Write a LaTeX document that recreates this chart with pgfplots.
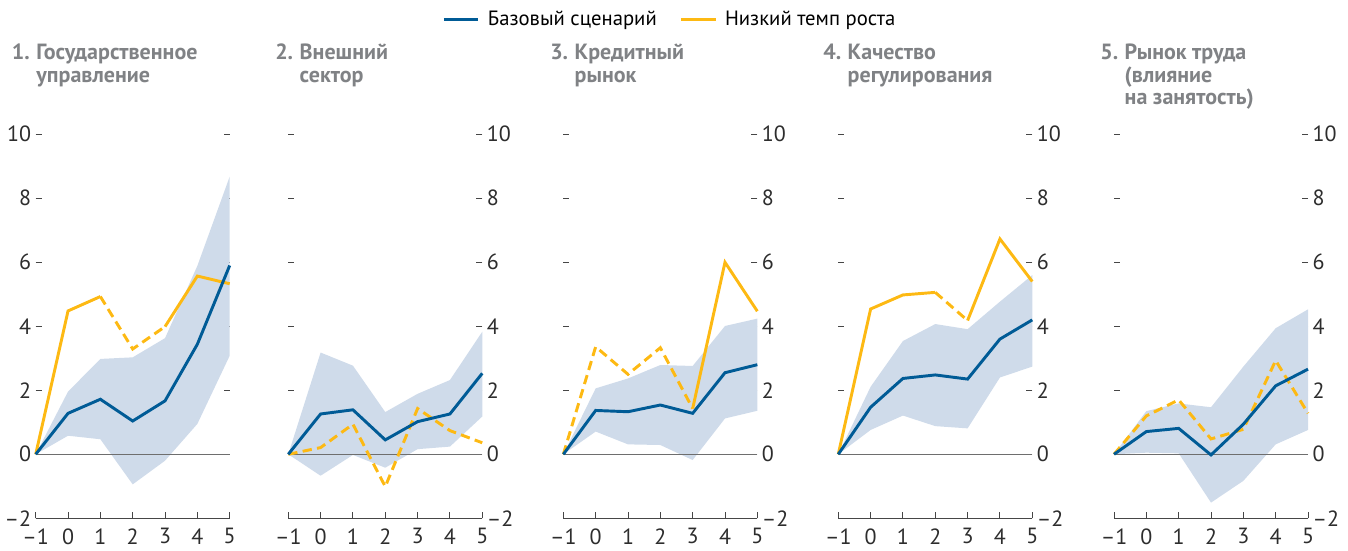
\documentclass[border=0pt]{standalone}
\usepackage{fontspec}
\setmainfont{PT Sans}
\usepackage{pgfplots}
\pgfplotsset{compat=1.18}
\usepackage{pgfplotstable}

\definecolor{bluec}{RGB}{0,91,150}
\definecolor{yelc}{RGB}{253,185,19}
\definecolor{bandc}{RGB}{207,219,234}
\definecolor{zeroc}{RGB}{110,110,110}
\definecolor{titc}{RGB}{128,130,133}
\definecolor{tickc}{RGB}{70,70,70}
\definecolor{labc}{RGB}{45,45,45}

% series: x, baseline, low-growth
\pgfplotstableread{
x  base  yel
-1 0     0
0  1.28  4.48
1  1.72  4.93
2  1.04  3.29
3  1.67  3.99
4  3.44  5.57
5  5.90  5.33
}\pone
\pgfplotstableread{
x  base  yel
-1 0     0
0  1.26  0.21
1  1.39  0.94
2  0.45  -1.01
3  1.02  1.43
4  1.26  0.74
5  2.53  0.36
}\ptwo
\pgfplotstableread{
x  base  yel
-1 0     0
0  1.37  3.36
1  1.33  2.50
2  1.54  3.33
3  1.28  1.43
4  2.55  6.00
5  2.80  4.47
}\pthree
\pgfplotstableread{
x  base  yel
-1 0     0
0  1.47  4.54
1  2.37  4.98
2  2.48  5.06
3  2.35  4.18
4  3.60  6.73
5  4.20  5.40
}\pfour
\pgfplotstableread{
x  base  yel
-1 0     0
0  0.71  1.20
1  0.81  1.70
2  -0.02 0.48
3  0.94  0.78
4  2.14  2.93
5  2.66  1.28
}\pfive

% confidence bands: upper bound left to right, then lower bound right to left
\pgfplotstableread{
x y
-1 0
0 1.96
1 2.98
2 3.03
3 3.63
4 5.89
5 8.68
5 3.08
4 0.95
3 -0.20
2 -0.94
1 0.47
0 0.58
}\bone
\pgfplotstableread{
x y
-1 0
0 3.18
1 2.77
2 1.32
3 1.89
4 2.32
5 3.83
5 1.18
4 0.24
3 0.16
2 -0.42
1 -0.02
0 -0.67
}\btwo
\pgfplotstableread{
x y
-1 0
0 2.06
1 2.37
2 2.79
3 2.76
4 4.01
5 4.24
5 1.36
4 1.12
3 -0.18
2 0.29
1 0.31
0 0.71
}\bthree
\pgfplotstableread{
x y
-1 0
0 2.11
1 3.54
2 4.07
3 3.91
4 4.77
5 5.60
5 2.74
4 2.40
3 0.81
2 0.88
1 1.21
0 0.76
}\bfour
\pgfplotstableread{
x y
-1 0
0 1.35
1 1.59
2 1.47
3 2.74
4 3.94
5 4.53
5 0.76
4 0.31
3 -0.83
2 -1.51
1 0.03
0 0.05
}\bfive

\newcommand\titlefont{\fontsize{16.5}{19}\selectfont\bfseries}
\pgfplotsset{
  mypanel/.style={
    scale only axis, width=145.5pt, height=288pt,
    anchor=south west, clip=false,
    xmin=-1, xmax=5, ymin=-2, ymax=10,
    xtick={-1,0,1,2,3,4,5}, xticklabels={–1,0,1,2,3,4,5},
    ytick={-2,0,2,4,6,8,10}, yticklabels={–2,0,2,4,6,8,10},
    axis line style={draw=none},
    tick align=inside, xtick pos=bottom, ytick pos=both,
    major tick length=4.5pt,
    tick style={draw=tickc, line width=0.75pt},
    ticklabel style={font=\fontsize{16.5}{18}\selectfont, text=labc},
    xticklabel style={inner sep=0pt, yshift=-7.5pt},
    yticklabel style={inner xsep=3.2pt},
  },
  mybandst/.style={fill=bandc, draw=none, forget plot},
  mybl/.style={bluec, line width=2.2pt, forget plot},
  myyl/.style={yelc, line width=2.2pt, forget plot},
  myyd/.style={yelc, line width=2.2pt, dash pattern=on 7pt off 4pt, forget plot},
}

\begin{document}
\begin{tikzpicture}
\useasboundingbox (0,0) rectangle (1011pt,412.5pt);

% Panel 1
\begin{axis}[mypanel, at={(26.78pt,23.78pt)}, yticklabel pos=left,
  legend columns=2,
  legend image code/.code={\draw[#1] (0pt,0pt) -- (26pt,0pt); \path (30pt,0pt);},
  legend style={at={(axis description cs:2.074,1.30)}, anchor=west,
    draw=none, fill=none, font=\fontsize{15.5}{17}\selectfont,
    /tikz/every even column/.append style={column sep=15pt}}]
\addplot[mybandst] table[x=x,y=y]{\bone} -- cycle;
\addplot[zeroc, line width=1pt, forget plot] coordinates {(-1,0) (5,0)};
\addplot[tickc, line width=0.9pt, forget plot] coordinates {(-1,-2) (5,-2)};
\addplot[myyl, restrict x to domain=-1:1] table[x=x,y=yel]{\pone};
\addplot[myyd, restrict x to domain=1:3] table[x=x,y=yel]{\pone};
\addplot[myyl, restrict x to domain=3:5] table[x=x,y=yel]{\pone};
\addplot[mybl] table[x=x,y=base]{\pone};
\addlegendimage{bluec, line width=2.2pt}
\addlegendentry{Базовый сценарий}
\addlegendimage{yelc, line width=2.2pt}
\addlegendentry{Низкий темп роста}
\end{axis}

% Panel 2
\begin{axis}[mypanel, at={(216.2pt,23.78pt)}, yticklabel pos=right]
\addplot[mybandst] table[x=x,y=y]{\btwo} -- cycle;
\addplot[zeroc, line width=1pt, forget plot] coordinates {(-1,0) (5,0)};
\addplot[tickc, line width=0.9pt, forget plot] coordinates {(-1,-2) (5,-2)};
\addplot[myyd] table[x=x,y=yel]{\ptwo};
\addplot[mybl] table[x=x,y=base]{\ptwo};
\end{axis}

% Panel 3
\begin{axis}[mypanel, at={(422.5pt,23.78pt)}, yticklabel pos=right]
\addplot[mybandst] table[x=x,y=y]{\bthree} -- cycle;
\addplot[zeroc, line width=1pt, forget plot] coordinates {(-1,0) (5,0)};
\addplot[tickc, line width=0.9pt, forget plot] coordinates {(-1,-2) (5,-2)};
\addplot[myyd, restrict x to domain=-1:3] table[x=x,y=yel]{\pthree};
\addplot[myyl, restrict x to domain=3:5] table[x=x,y=yel]{\pthree};
\addplot[mybl] table[x=x,y=base]{\pthree};
\end{axis}

% Panel 4
\begin{axis}[mypanel, at={(628.7pt,23.78pt)}, yticklabel pos=right]
\addplot[mybandst] table[x=x,y=y]{\bfour} -- cycle;
\addplot[zeroc, line width=1pt, forget plot] coordinates {(-1,0) (5,0)};
\addplot[tickc, line width=0.9pt, forget plot] coordinates {(-1,-2) (5,-2)};
\addplot[myyl, restrict x to domain=-1:2] table[x=x,y=yel]{\pfour};
\addplot[myyd, restrict x to domain=2:3] table[x=x,y=yel]{\pfour};
\addplot[myyl, restrict x to domain=3:5] table[x=x,y=yel]{\pfour};
\addplot[mybl] table[x=x,y=base]{\pfour};
\end{axis}

% Panel 5
\begin{axis}[mypanel, at={(835.5pt,23.78pt)}, yticklabel pos=right]
\addplot[mybandst] table[x=x,y=y]{\bfive} -- cycle;
\addplot[zeroc, line width=1pt, forget plot] coordinates {(-1,0) (5,0)};
\addplot[tickc, line width=0.9pt, forget plot] coordinates {(-1,-2) (5,-2)};
\addplot[myyd] table[x=x,y=yel]{\pfive};
\addplot[mybl] table[x=x,y=base]{\pfive};
\end{axis}

% Titles
\tikzset{tt/.style={anchor=base west, inner sep=0pt, font=\titlefont, text=titc}}
\newcommand\gap{\rule{4.5pt}{0pt}}
\node[tt] (n1) at (8.8pt,367.5pt) {1.\gap};
\node[tt] at (n1.base east) {Государственное};
\node[tt] at ([yshift=-16.8pt]n1.base east) {управление};

\node[tt] (n2) at (206.25pt,367.5pt) {2.\gap};
\node[tt] at (n2.base east) {Внешний};
\node[tt] at ([yshift=-16.8pt]n2.base east) {сектор};

\node[tt] (n3) at (412.5pt,367.5pt) {3.\gap};
\node[tt] at (n3.base east) {Кредитный};
\node[tt] at ([yshift=-16.8pt]n3.base east) {рынок};

\node[tt] (n4) at (617.25pt,367.5pt) {4.\gap};
\node[tt] at (n4.base east) {Качество};
\node[tt] at ([yshift=-16.8pt]n4.base east) {регулирования};

\node[tt] (n5) at (825pt,367.5pt) {5.\gap};
\node[tt] at (n5.base east) {Рынок труда};
\node[tt] at ([yshift=-16.8pt]n5.base east) {(влияние};
\node[tt] at ([yshift=-33.6pt]n5.base east) {на занятость)};
\end{tikzpicture}
\end{document}
